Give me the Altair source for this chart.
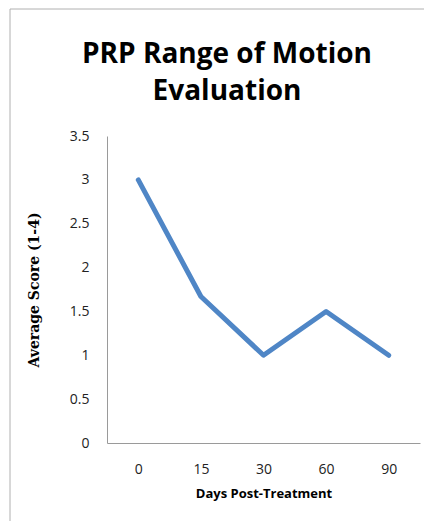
import altair as alt
import pandas as pd

days = ["0", "15", "30", "60", "90"]
scores = [3.0, 1.67, 1.0, 1.5, 1.0]
y_ticks = [0, 0.5, 1, 1.5, 2, 2.5, 3, 3.5]
title_text = "PRP Range of Motion\nEvaluation"

df = pd.DataFrame({"Days": days, "Score": scores})

line = alt.Chart(df).mark_line(color="#4F86C6", strokeWidth=5, strokeCap="round", strokeJoin="round").encode(
    x=alt.X("Days:N", sort=days, title="Days Post-Treatment",
            scale=alt.Scale(paddingInner=0, paddingOuter=0.5),
            axis=alt.Axis(labelAngle=0, ticks=False, domainColor="#9a9a9a", labelPadding=19,
                          labelFont="Open Sans", labelFontSize=14, labelColor="#222",
                          titleFont="Open Sans", titleFontSize=13, titleFontWeight="bold",
                          titleColor="#000", titlePadding=11)),
    y=alt.Y("Score:Q", title="Average Score (1-4)",
            scale=alt.Scale(domain=[0, 3.5], nice=False),
            axis=alt.Axis(values=y_ticks, format=".1~f", ticks=False, grid=False, domainColor="#9a9a9a",
                          labelPadding=18, labelFont="Open Sans", labelFontSize=14, labelColor="#222",
                          titleFont="DejaVu Serif", titleFontSize=14, titleFontWeight="bold",
                          titleColor="#000", titlePadding=28)),
)

border = alt.Chart(pd.DataFrame({"a": [0]})).mark_rect(fill=None, stroke="#b0b0b0", strokeWidth=1).encode(
    x=alt.value(-97), x2=alt.value(325), y=alt.value(-127), y2=alt.value(400)
)

title = alt.Chart(pd.DataFrame({"t": [title_text]})).mark_text(
    font="Open Sans", fontSize=28, fontWeight="bold", color="#000", align="center",
    baseline="alphabetic", lineBreak="\n", lineHeight=37
).encode(text="t:N", x=alt.value(120), y=alt.value(-73))

chart = alt.layer(border, title, line).properties(
    width=313, height=307,
    autosize=alt.AutoSizeParams(type="none"),
    padding={"left": 99, "top": 128, "right": 4, "bottom": 78},
).configure_view(stroke=None)

chart.save("out.html", embed_options={"renderer": "svg", "actions": False})
